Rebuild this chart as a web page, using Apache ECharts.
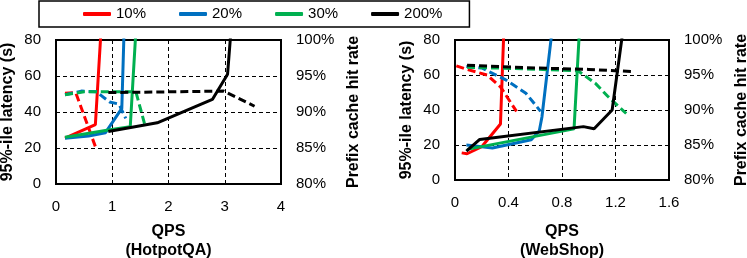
<!DOCTYPE html>
<html>
<head>
<meta charset="utf-8">
<script src="https://cdn.jsdelivr.net/npm/echarts@6/dist/echarts.min.js"></script>
<style>
html,body{margin:0;padding:0;background:#fff;}
#c{width:747px;height:258px;}
</style>
</head>
<body>
<div id="c"></div>
<script>
// ---- Data (x = QPS, y = latency s or hit rate %) ----
const legendNames = ['10%', '20%', '30%', '200%'];
const colors = ['#FF0000', '#0070C0', '#00B050', '#000000'];

// HotpotQA latency (left axis)
const hqaLat10 = [[0.16, 25.5], [0.70, 33], [0.80, 85]];
const hqaLat20 = [[0.16, 25.4], [0.58, 26.7], [0.88, 28.5], [1.17, 42], [1.21, 85]];
const hqaLat30 = [[0.16, 26], [0.93, 30], [1.32, 31.8], [1.42, 85]];
const hqaLat200 = [[0.93, 29.2], [1.80, 34], [2.78, 47], [3.05, 61], [3.11, 85]];
// HotpotQA prefix cache hit rate (right axis)
const hqaHit10 = [[0.16, 92.6], [0.35, 92.7], [0.70, 85.2]];
const hqaHit20 = [[0.16, 92.4], [0.45, 92.9], [0.72, 92.8], [0.95, 91.4], [1.12, 91.1], [1.24, 89.1]];
const hqaHit30 = [[0.16, 92.4], [0.50, 92.8], [1.00, 92.8], [1.42, 92.8], [1.58, 88.2]];
const hqaHit200 = [[0.93, 92.7], [2.00, 92.8], [2.98, 92.9], [3.53, 90.8]];

// WebShop latency (left axis)
const wsLat10 = [[0.05, 15.5], [0.09, 15], [0.20, 19], [0.34, 32], [0.365, 85]];
const wsLat20 = [[0.085, 20], [0.28, 18.3], [0.57, 23], [0.63, 28], [0.65, 36], [0.725, 85]];
const wsLat30 = [[0.09, 17.5], [0.50, 23.5], [0.89, 29.2], [0.93, 85]];
const wsLat200 = [[0.085, 16.5], [0.185, 23.2], [0.96, 30.5], [1.04, 29.3], [1.175, 40], [1.255, 85]];
// WebShop prefix cache hit rate (right axis)
const wsHit10 = [[0.01, 96.3], [0.09, 95.8], [0.24, 95.0], [0.34, 93.3], [0.46, 89.8]];
const wsHit20 = [[0.085, 96.2], [0.20, 96.0], [0.38, 94.3], [0.53, 92.4], [0.64, 89.8]];
const wsHit30 = [[0.09, 96.1], [0.50, 95.9], [0.92, 95.6], [1.05, 93.8], [1.14, 92.0], [1.28, 89.5]];
const wsHit200 = [[0.09, 96.4], [0.60, 96.0], [1.00, 95.8], [1.32, 95.5]];

const hqaLat = [hqaLat10, hqaLat20, hqaLat30, hqaLat200];
const hqaHit = [hqaHit10, hqaHit20, hqaHit30, hqaHit200];
const wsLat = [wsLat10, wsLat20, wsLat30, wsLat200];
const wsHit = [wsHit10, wsHit20, wsHit30, wsHit200];

const FONT = 'Liberation Sans, Arial, sans-serif';

function xAxis(gridIndex, max, interval, title, gap) {
  return {
    type: 'value', gridIndex, min: 0, max, interval,
    axisLine: { show: true, lineStyle: { color: '#000', width: 2 } },
    axisTick: { show: false },
    axisLabel: { color: '#000', fontSize: 15, fontFamily: FONT, margin: 15 },
    splitLine: { show: true, lineStyle: { color: '#000', width: 1, type: [4, 3] } },
    name: title, nameLocation: 'middle', nameGap: gap,
    nameTextStyle: { color: '#000', fontSize: 16, fontWeight: 'bold', fontFamily: FONT, lineHeight: 19 }
  };
}
function yLeft(gridIndex) {
  return {
    type: 'value', gridIndex, min: 0, max: 80, interval: 20, position: 'left',
    axisLine: { show: true, lineStyle: { color: '#000', width: 2 } },
    axisTick: { show: false },
    axisLabel: { color: '#000', fontSize: 15, fontFamily: FONT, margin: 15 },
    splitLine: { show: true, lineStyle: { color: '#000', width: 1, type: [4, 3] } },
    name: '95%-ile latency (s)', nameLocation: 'middle', nameGap: 40, nameRotate: 90,
    nameTextStyle: { color: '#000', fontSize: 16, fontWeight: 'bold', fontFamily: FONT }
  };
}
function yRight(gridIndex) {
  return {
    type: 'value', gridIndex, min: 80, max: 100, interval: 5, position: 'right',
    axisLine: { show: true, lineStyle: { color: '#000', width: 2 } },
    axisTick: { show: false },
    axisLabel: { color: '#000', fontSize: 15, fontFamily: FONT, margin: 15, formatter: '{value}%' },
    splitLine: { show: false },
    name: 'Prefix cache hit rate', nameLocation: 'middle', nameGap: 65, nameRotate: 90,
    nameTextStyle: { color: '#000', fontSize: 16, fontWeight: 'bold', fontFamily: FONT }
  };
}

const series = [];
function addSeries(latArr, hitArr, xi, yl, yr) {
  for (let i = 0; i < 4; i++) {
    series.push({
      name: legendNames[i], type: 'line', xAxisIndex: xi, yAxisIndex: yl,
      data: latArr[i], symbol: 'none', clip: true,
      color: colors[i],
      lineStyle: { color: colors[i], width: 3 }, z: 3 + i
    });
    series.push({
      name: legendNames[i] + ' hit', type: 'line', xAxisIndex: xi, yAxisIndex: yr,
      data: hitArr[i], symbol: 'none', clip: true,
      color: colors[i],
      lineStyle: { color: colors[i], width: 3, type: [8, 4] }, z: 3 + i
    });
  }
}
addSeries(hqaLat, hqaHit, 0, 0, 1);
addSeries(wsLat, wsHit, 1, 2, 3);

const option = {
  animation: false,
  backgroundColor: '#fff',
  textStyle: { fontFamily: FONT },
  legend: {
    data: legendNames,
    left: 39, top: 1,
    padding: [5, 27, 5, 44],
    itemGap: 33,
    itemWidth: 28, itemHeight: 4,
    icon: 'roundRect',
    borderColor: '#000', borderWidth: 1.5,
    textStyle: { color: '#000', fontSize: 15, fontFamily: FONT, lineHeight: 16 }
  },
  grid: [
    { left: 56, top: 40, width: 225, height: 144, show: true, borderColor: '#000', borderWidth: 2,
      containLabel: false, outerBoundsMode: 'none' },
    { left: 455, top: 40, width: 214, height: 140, show: true, borderColor: '#000', borderWidth: 2,
      containLabel: false, outerBoundsMode: 'none' }
  ],
  xAxis: [xAxis(0, 4, 1, 'QPS\n(HotpotQA)', 38), xAxis(1, 1.6, 0.4, 'QPS\n(WebShop)', 42)],
  yAxis: [yLeft(0), yRight(0), yLeft(1), yRight(1)],
  series
};

const chart = echarts.init(document.getElementById('c'), null, { renderer: 'canvas' });
chart.setOption(option);
</script>
</body>
</html>
